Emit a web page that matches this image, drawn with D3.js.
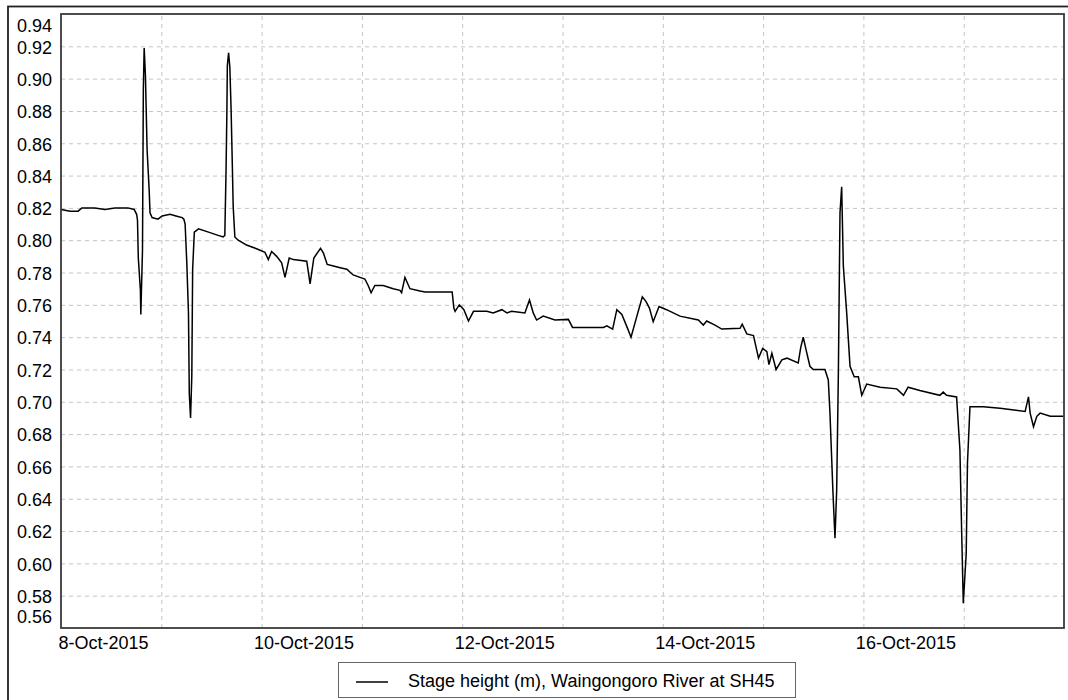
<!DOCTYPE html>
<html>
<head>
<meta charset="utf-8">
<script src="https://cdn.jsdelivr.net/npm/d3@7"></script>
<style>
body { margin: 0; background: #fff; }
text { font-family: "Liberation Sans", Arial, sans-serif; font-size: 18px; fill: #000; }
</style>
</head>
<body>
<div id="chart"></div>
<script>
// series name shown in the legend
var seriesName = "Stage height (m), Waingongoro River at SH45";

// time window of the plot
var startDate = new Date(2015, 9, 8), endDate = new Date(2015, 9, 18);

// hours since 8-Oct-2015 00:00
var hours = [0, 2.2, 4.1, 5.0, 8.1, 10.5, 12.9, 16.0, 17.5, 18.1, 18.3, 18.5, 19.0, 19.1,
    19.5, 19.7, 19.9, 20.2, 20.6, 21.1, 21.3, 21.8, 23.2, 24.2, 26.1, 27.5, 29.0, 29.4,
    29.7, 30.1, 30.5, 30.7, 31.0, 31.3, 31.5, 31.9, 32.9, 35.3, 37.6, 38.8, 39.2, 39.5,
    39.7, 39.8, 40.1, 40.4, 40.7, 41.0, 41.2, 41.6, 42.4, 44.4, 46.5, 48.8, 49.6, 50.4,
    51.6, 52.8, 53.6, 54.6, 55.6, 58.8, 59.6, 60.5, 62.1, 62.8, 63.7, 65.2, 66.8, 68.4,
    69.9, 72.7, 73.5, 74.2, 75.1, 77.1, 79.5, 81.1, 81.5, 82.3, 83.5, 85.9, 87.1, 93.6,
    94.0, 94.3, 95.3, 96.4, 97.5, 98.7, 101.9, 103.4, 105.5, 106.7, 107.8, 111.0, 112.1,
    113.0, 113.8, 115.4, 118.2, 121.4, 122.4, 124.2, 129.8, 130.6, 132.0, 133.0, 134.2,
    135.4, 136.4, 137.8, 139.1, 140.0, 140.8, 141.7, 143.1, 144.9, 148.1, 152.5, 153.7,
    154.5, 156.5, 158.1, 162.5, 163.0, 164.1, 165.7, 166.9, 167.9, 168.9, 169.4, 170.1,
    171.1, 172.5, 173.7, 176.4, 177.0, 177.6, 178.3, 179.2, 180.0, 182.8, 183.6, 184.0,
    184.7, 185.2, 185.6, 186.0, 186.4, 186.8, 187.2, 188.0, 188.8, 189.8, 190.8, 191.6,
    192.8, 196.0, 200.0, 201.6, 202.7, 205.5, 210.3, 211.1, 211.9, 214.3, 215.1, 215.5,
    215.9, 216.6, 216.9, 217.5, 220.7, 224.7, 230.7, 231.5, 231.9, 232.7, 233.5, 234.3,
    236.7, 239.8];

// stage height (m)
var stage = [0.819, 0.818, 0.818, 0.820, 0.820, 0.819, 0.820, 0.820, 0.819, 0.816, 0.8125, 0.789, 0.769, 0.754,
    0.794, 0.893, 0.919, 0.902, 0.856, 0.831, 0.817, 0.814, 0.813, 0.815, 0.816, 0.815, 0.814, 0.813,
    0.810, 0.786, 0.755, 0.705, 0.690, 0.716, 0.782, 0.805, 0.807, 0.805, 0.803, 0.802, 0.803, 0.844,
    0.881, 0.908, 0.916, 0.907, 0.881, 0.846, 0.821, 0.802, 0.800, 0.797, 0.795, 0.7925, 0.788, 0.793,
    0.790, 0.786, 0.777, 0.789, 0.788, 0.787, 0.773, 0.789, 0.795, 0.792, 0.785, 0.784, 0.783, 0.782,
    0.7785, 0.776, 0.772, 0.7675, 0.772, 0.772, 0.770, 0.769, 0.7675, 0.777, 0.770, 0.7686, 0.768, 0.768,
    0.758, 0.756, 0.760, 0.757, 0.750, 0.756, 0.756, 0.755, 0.757, 0.755, 0.756, 0.755, 0.763,
    0.755, 0.7506, 0.753, 0.7506, 0.751, 0.746, 0.746, 0.746, 0.747, 0.745, 0.757, 0.754,
    0.7465, 0.740, 0.753, 0.765, 0.762, 0.758, 0.7496, 0.759, 0.757, 0.753, 0.7506, 0.7475,
    0.750, 0.7475, 0.745, 0.7455, 0.748, 0.742, 0.741, 0.727, 0.733, 0.731, 0.723, 0.730,
    0.720, 0.726, 0.727, 0.724, 0.7335, 0.740, 0.732, 0.722, 0.720, 0.720, 0.7135, 0.693,
    0.645, 0.6155, 0.645, 0.7155, 0.817, 0.833, 0.784, 0.755, 0.722, 0.7155, 0.7155, 0.704,
    0.711, 0.709, 0.708, 0.704, 0.709, 0.707, 0.704, 0.706, 0.704, 0.703, 0.670, 0.621,
    0.5753, 0.606, 0.662, 0.697, 0.697, 0.696, 0.694, 0.703, 0.693, 0.6846, 0.691, 0.693,
    0.691, 0.691];

// y axis tick labels
var yTicks = [0.56, 0.58, 0.60, 0.62, 0.64, 0.66, 0.68, 0.70, 0.72, 0.74, 0.76, 0.78,
    0.80, 0.82, 0.84, 0.86, 0.88, 0.90, 0.92, 0.94];

// x axis labels, every second day
var xLabelDays = [new Date(2015, 9, 8), new Date(2015, 9, 10), new Date(2015, 9, 12),
    new Date(2015, 9, 14), new Date(2015, 9, 16)];

var w = 1068, h = 700,
    pL = 61, pR = 1064, pT = 14, pB = 628;      // plot box

var data = hours.map((hr, i) => ({ date: new Date(+startDate + hr * 3600e3), v: stage[i] }));

var svg = d3.select("#chart").append("svg")
    .attr("width", w)
    .attr("height", h);

// outer frame (runs off the right and bottom edges)
svg.append("rect")
    .attr("x", 8).attr("y", 6.5)
    .attr("width", w).attr("height", h)
    .attr("fill", "#fff")
    .attr("stroke", "#222")
    .attr("stroke-width", 1.8);

var x = d3.scaleTime().domain([startDate, endDate]).range([pL, pR]);
var y = d3.scaleLinear().domain([0.56, 0.94]).range([pB, pT]);

// dashed grid lines
var gridColor = "#c4c4c4";
svg.append("g")
    .attr("transform", "translate(0," + pB + ")")
    .call(d3.axisBottom(x).ticks(d3.timeDay.every(1)).tickSize(-(pB - pT)).tickFormat(""))
    .call(g => g.select(".domain").remove())
    .call(g => g.selectAll(".tick").filter(d => +d === +startDate || +d === +endDate).remove())
    .call(g => g.selectAll("line").attr("stroke", gridColor).attr("stroke-dasharray", "4,4"));
svg.append("g")
    .attr("transform", "translate(" + pL + ",0)")
    .call(d3.axisLeft(y).tickValues(yTicks.slice(1, -1)).tickSize(-(pR - pL)).tickFormat(""))
    .call(g => g.select(".domain").remove())
    .call(g => g.selectAll("line").attr("stroke", gridColor).attr("stroke-dasharray", "4,4"));

// the series
svg.append("path")
    .datum(data)
    .attr("fill", "none")
    .attr("stroke", "#000")
    .attr("stroke-width", 1.5)
    .attr("stroke-linejoin", "miter")
    .attr("d", d3.line().x(d => x(d.date)).y(d => y(d.v)));

// plot border
svg.append("rect")
    .attr("x", pL).attr("y", pT)
    .attr("width", pR - pL).attr("height", pB - pT)
    .attr("fill", "none")
    .attr("stroke", "#3a3a3a")
    .attr("stroke-width", 1.8);

// y tick labels, the end ones are pushed inside the box
svg.append("g")
    .attr("transform", "translate(" + pL + ",0)")
    .call(d3.axisLeft(y).tickValues(yTicks).tickSize(0).tickPadding(9).tickFormat(d3.format(".2f")))
    .call(g => g.select(".domain").remove())
    .call(g => g.selectAll("text")
        .attr("y", d => d === 0.94 ? 12 : d === 0.56 ? -11 : 1)
        .style("font-size", "18px"));

// x tick labels, drawn a bit right of midnight like the original
svg.append("g")
    .attr("transform", "translate(0," + pB + ")")
    .call(d3.axisBottom(x).tickValues(xLabelDays).tickSize(0).tickPadding(8)
        .tickFormat(d3.timeFormat("%-d-%b-%Y")))
    .call(g => g.select(".domain").remove())
    .call(g => g.selectAll("text").attr("x", 42).style("font-size", "18px"));

// legend
var lg = svg.append("g").attr("transform", "translate(338,662)");
lg.append("rect")
    .attr("x", 0.5).attr("y", 0.5)
    .attr("width", 457).attr("height", 35)
    .attr("fill", "#fff")
    .attr("stroke", "#666");
lg.append("line")
    .attr("x1", 18).attr("x2", 50)
    .attr("y1", 20).attr("y2", 20)
    .attr("stroke", "#000")
    .attr("stroke-width", 1.5);
lg.append("text")
    .attr("x", 70).attr("y", 25)
    .text(seriesName);
</script>
</body>
</html>
